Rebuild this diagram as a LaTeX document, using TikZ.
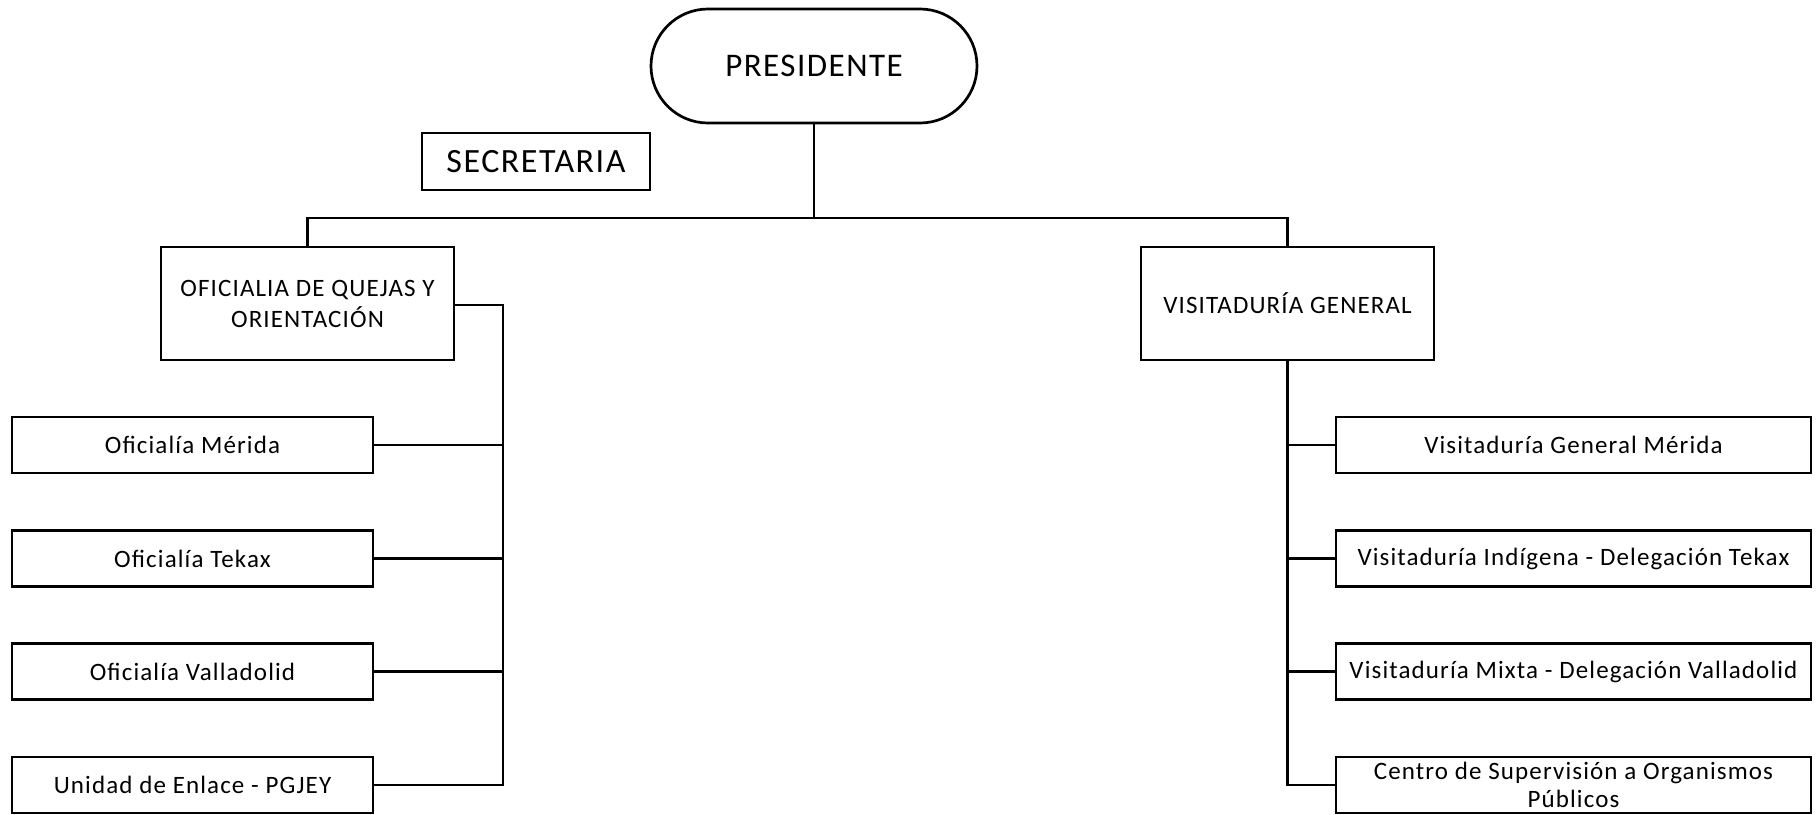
\documentclass[tikz,border=0pt]{standalone}
\usepackage{fontspec}
\setmainfont{Carlito}[LetterSpace=4.5]
\begin{document}
\begin{tikzpicture}[x=1pt,y=-1pt,
  box/.style={draw=black, line width=2.7pt, inner sep=0pt, align=center},
  child/.style={box, minimum height=56pt, font=\fontsize{25}{28}\selectfont},
  lchild/.style={child, minimum width=361pt},
  rchild/.style={child, minimum width=475pt},
  conn/.style={line width=2.7pt}
]
\useasboundingbox (0,0) rectangle (1818,814);
\node[box, minimum width=326pt, minimum height=114pt, rounded corners=57pt, font=\fontsize{33}{36}\selectfont] (pres) at (814,66) {PRESIDENTE};
\node[box, minimum width=228pt, minimum height=57pt, font=\fontsize{34}{36}\selectfont] (sec) at (536,161.5) {SECRETARIA};
\node[box, minimum width=293pt, minimum height=113pt, font=\fontsize{25}{31}\selectfont] (ofi) at (307.5,303.5) {OFICIALIA DE QUEJAS Y\\ORIENTACIÓN};
\node[box, minimum width=293pt, minimum height=113pt, font=\fontsize{25}{31}\selectfont] (vg) at (1287.5,303.5) {VISITADURÍA GENERAL};

\node[lchild] (l1) at (192.5,445) {Oficialía Mérida};
\node[lchild] (l2) at (192.5,558.5) {Oficialía Tekax};
\node[lchild] (l3) at (192.5,671.5) {Oficialía Valladolid};
\node[lchild] (l4) at (192.5,785) {Unidad de Enlace - PGJEY};

\node[rchild] (r1) at (1573.5,445) {Visitaduría General Mérida};
\node[rchild] (r2) at (1573.5,558.5) {Visitaduría Indígena - Delegación Tekax};
\node[rchild] (r3) at (1573.5,671.5) {Visitaduría Mixta - Delegación Valladolid};
\node[rchild] (r4) at (1573.5,785) {Centro de Supervisión a Organismos\\Públicos};

\coordinate (bus) at (814,218);
\coordinate (lx) at (503,305);
\draw[conn] (pres.south) -- (bus);
\draw[conn] (ofi.north) |- (bus) -| (vg.north);
\draw[conn] (ofi.east |- lx) -- (lx) -- (lx |- l4.east) -- (l4.east);
\foreach \n in {l1,l2,l3} \draw[conn] (\n.east) -- (\n.east -| lx);
\draw[conn] (vg.south) -- (vg.south |- r4.west) -- (r4.west);
\foreach \n in {r1,r2,r3} \draw[conn] (\n.west) -- (\n.west -| vg.south);
\end{tikzpicture}
\end{document}
